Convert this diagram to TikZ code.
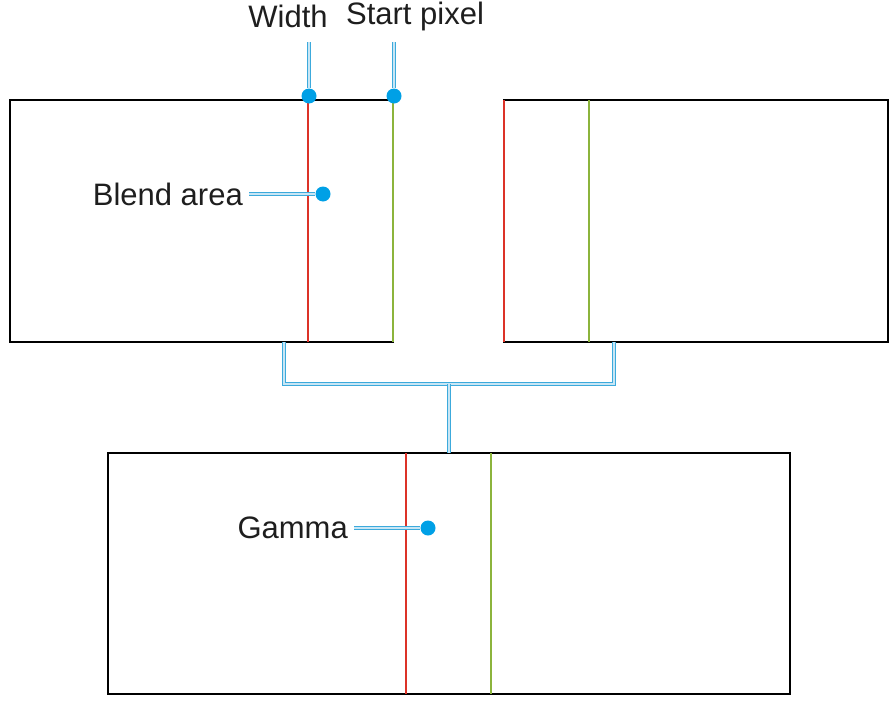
\documentclass[tikz,border=0pt]{standalone}
\usepackage{fontspec}
\setmainfont{Liberation Sans}
\begin{document}
\begin{tikzpicture}[x=1pt,y=-1pt,
  box/.style={draw=black,line width=1.5pt},
  redl/.style={draw={rgb,255:red,220;green,50;blue,40},line width=2pt},
  grnl/.style={draw={rgb,255:red,140;green,180;blue,60},line width=2pt},
  lead/.style={draw={rgb,255:red,60;green,170;blue,220},double={rgb,255:red,200;green,230;blue,245},line width=1.1pt,double distance=2pt},
  dot/.style={circle,fill={rgb,255:red,0;green,160;blue,230},inner sep=0pt,minimum size=15pt},
  lbl/.style={font=\fontsize{31}{33}\selectfont,text={rgb,255:red,30;green,30;blue,30},inner sep=0pt}]
\useasboundingbox (0,0) rectangle (894,704);
\draw[box] (10,100) rectangle (393,342);
\draw[box] (504,100) rectangle (888,342);
\draw[box] (108,453) rectangle (790,694);
\draw[redl] (308,100) -- (308,342);
\draw[grnl] (393,100) -- (393,342);
\draw[redl] (504,100) -- (504,342);
\draw[grnl] (589,100) -- (589,342);
\draw[redl] (406,453) -- (406,694);
\draw[grnl] (491,453) -- (491,694);
\coordinate (c1) at (284,342);
\coordinate (c2) at (614,342);
\coordinate (c3) at (449,453);
\draw[lead] (c1) -- (284,384) -- (614,384) -- (c2);
\draw[lead] (449,384) -- (c3);
\node[lbl] (w) at (288,16) {Width};
\node[lbl] (s) at (415,16) {Start pixel};
\node[lbl,anchor=east] (b) at (243,194) {Blend area};
\node[lbl,anchor=east] (g) at (348,528) {Gamma};
\node[dot] (d1) at (309,96) {};
\node[dot] (d2) at (394,96) {};
\node[dot] (d3) at (323,194) {};
\node[dot] (d4) at (428,528) {};
\draw[lead] (309,42) -- (d1);
\draw[lead] (394,42) -- (d2);
\draw[lead] (b.east)++(6,0) -- (d3);
\draw[lead] (g.east)++(6,0) -- (d4);
\end{tikzpicture}
\end{document}
